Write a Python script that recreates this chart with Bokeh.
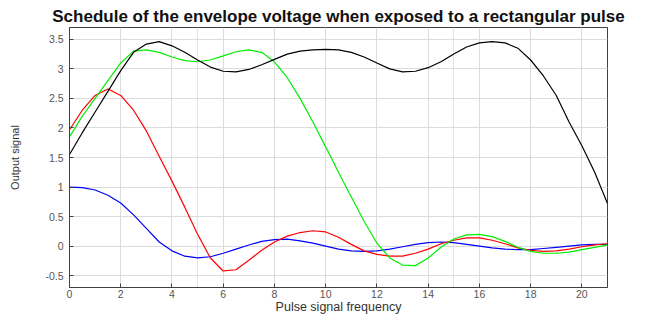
from bokeh.plotting import figure
from bokeh.models import Range1d, FixedTicker, LinearAxis, Title, Grid
from bokeh.embed import file_html
from bokeh.resources import INLINE

# ---- data ----
freq = [i * 0.5 for i in range(43)]  # 0 .. 21 step 0.5

blue = [1.00, 0.99, 0.95, 0.86, 0.73, 0.53, 0.30, 0.07, -0.08, -0.17,
        -0.20, -0.18, -0.12, -0.05, 0.02, 0.08, 0.11, 0.12, 0.09, 0.05,
        0.00, -0.05, -0.08, -0.09, -0.08, -0.05, -0.01, 0.03, 0.06, 0.07,
        0.06, 0.03, 0.00, -0.03, -0.05, -0.06, -0.06, -0.04, -0.02, 0.00,
        0.02, 0.03, 0.03]

red = [1.97, 2.30, 2.55, 2.66, 2.55, 2.30, 1.95, 1.52, 1.10, 0.66,
       0.20, -0.20, -0.42, -0.40, -0.24, -0.07, 0.07, 0.17, 0.23, 0.26,
       0.24, 0.15, 0.03, -0.08, -0.14, -0.17, -0.17, -0.12, -0.05, 0.04,
       0.10, 0.14, 0.14, 0.10, 0.04, -0.03, -0.07, -0.09, -0.08, -0.05,
       -0.01, 0.02, 0.04]

green = [1.85, 2.20, 2.50, 2.80, 3.10, 3.30, 3.32, 3.28, 3.20, 3.14,
         3.12, 3.15, 3.22, 3.29, 3.32, 3.28, 3.12, 2.85, 2.50, 2.10,
         1.68, 1.25, 0.83, 0.42, 0.05, -0.20, -0.32, -0.33, -0.20, -0.02,
         0.12, 0.19, 0.20, 0.16, 0.08, -0.02, -0.09, -0.12, -0.12, -0.10,
         -0.06, -0.02, 0.02]

black = [1.55, 1.92, 2.27, 2.62, 2.97, 3.28, 3.42, 3.46, 3.39, 3.28,
         3.15, 3.03, 2.96, 2.95, 2.99, 3.07, 3.16, 3.25, 3.30, 3.32,
         3.33, 3.32, 3.28, 3.20, 3.10, 3.00, 2.95, 2.96, 3.02, 3.12,
         3.25, 3.37, 3.44, 3.46, 3.44, 3.35, 3.15, 2.88, 2.55, 2.10,
         1.70, 1.25, 0.72]

x_ticks = [0, 2, 4, 6, 8, 10, 12, 14, 16, 18, 20]
y_ticks = [-0.5, 0, 0.5, 1, 1.5, 2, 2.5, 3, 3.5]
y_tick_labels = {-0.5: "-0.5", 0: "0", 0.5: "0.5", 1: "1", 1.5: "1.5",
                 2: "2", 2.5: "2.5", 3: "3", 3.5: "3.5"}

title_text = "Schedule of the envelope voltage when exposed to a rectangular pulse"
x_label = "Pulse signal frequency"
y_label = "Output signal"

FONT = "Liberation Sans"

p = figure(width=629, height=316, output_backend="svg", toolbar_location=None,
           x_range=Range1d(0, 21), y_range=Range1d(-0.7, 3.7),
           x_axis_location=None, y_axis_location=None,
           min_border_left=69, min_border_right=22, min_border_top=27,
           min_border_bottom=26)

p.title = Title(text=title_text, align="center", text_font=FONT,
                text_font_size="17px", text_font_style="bold",
                text_color="#111111", standoff=4, offset=0)

p.outline_line_color = "#404040"
p.outline_line_width = 1
p.background_fill_color = "white"
p.border_fill_color = "white"


def make_axis(ticks, overrides=None):
    ax = LinearAxis(ticker=FixedTicker(ticks=ticks))
    ax.axis_line_color = "#404040"
    ax.major_tick_line_color = "#404040"
    ax.major_tick_in = 4
    ax.major_tick_out = 0
    ax.minor_tick_line_color = None
    ax.major_label_text_font = FONT
    ax.major_label_text_font_size = "10.5px"
    ax.major_label_text_color = "#555555"
    if overrides:
        ax.major_label_overrides = overrides
    return ax


xb = make_axis(x_ticks)
xb.major_label_standoff = 2
xb.axis_label = x_label
xb.axis_label_text_font = FONT
xb.axis_label_text_font_size = "12.5px"
xb.axis_label_text_font_style = "normal"
xb.axis_label_text_color = "#333333"
xb.axis_label_standoff = -1
p.add_layout(xb, "below")

yl = make_axis(y_ticks, overrides=y_tick_labels)
yl.major_label_standoff = 6
yl.axis_label = y_label
yl.axis_label_text_font = FONT
yl.axis_label_text_font_size = "11px"
yl.axis_label_text_font_style = "normal"
yl.axis_label_text_color = "#333333"
yl.axis_label_standoff = 21
p.add_layout(yl, "left")

p.add_layout(Grid(dimension=0, ticker=FixedTicker(ticks=x_ticks),
                  grid_line_color="#dcdcdc", grid_line_width=1))
p.add_layout(Grid(dimension=1, ticker=FixedTicker(ticks=y_ticks),
                  grid_line_color="#dcdcdc", grid_line_width=1))

p.line(freq, blue, line_color="#0000ff", line_width=1.2)
p.line(freq, red, line_color="#ff0000", line_width=1.2)
p.line(freq, green, line_color="#00ee00", line_width=1.2)
p.line(freq, black, line_color="#000000", line_width=1.2)

open("out.html", "w").write(file_html(p, INLINE))
